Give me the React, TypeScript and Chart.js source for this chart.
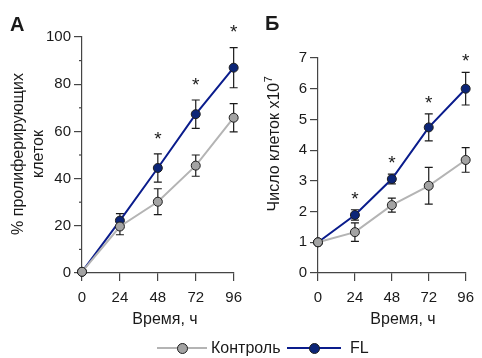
import React, { useEffect, useRef } from 'react';
import { Chart, registerables } from 'chart.js';

Chart.register(...registerables);

const FONT = '"Liberation Sans", Arial, Helvetica, sans-serif';

// ---- data ----
const hours = [0, 24, 48, 72, 96];
const seriesNames = ['Контроль', 'FL'];

const aControl = [0.5, 19.7, 30.2, 45.5, 65.8];
const aControlErr = [0, 3.5, 5.5, 4.5, 6];
const aFL = [0.5, 22.2, 44.5, 67.3, 87.0];
const aFLErr = [0, 3, 6, 6, 8.5];
const aStars = [false, false, true, true, true];
const aMinorTicks = [10, 30, 50, 70, 90];

const bControl = [1, 1.33, 2.21, 2.84, 3.68];
const bControlErr = [0, 0.3, 0.23, 0.6, 0.4];
const bFL = [1, 1.89, 3.06, 4.74, 6.0];
const bFLErr = [0, 0.17, 0.16, 0.44, 0.53];
const bStars = [false, true, true, true, true];

const aYTitle = ['% пролиферирующих', 'клеток'];
const bYTitle = 'Число клеток x10';
const bYTitleSup = '7';
const xTitle = 'Время, ч';

// ---- styles ----
const CONTROL_LINE = '#b4b4b4';
const CONTROL_FILL = '#a3a3a3';
const FL_LINE = '#0a1c8c';
const FL_FILL = '#0c2577';
const MARKER_EDGE = '#1e1e1e';
const AXIS = '#454545';
const TEXT = '#1a1a1a';

type Panel = {
  control: number[];
  controlErr: number[];
  fl: number[];
  flErr: number[];
  stars: boolean[];
  yMax: number;
  yStep: number;
  minor: number[];
  width: number;
  height: number;
  area: { left: number; top: number; right: number; bottom: number };
  letter: string;
  letterPos: [number, number];
  yTitle: string[];
  yTitleSup?: string;
  yTitlePos: [number, number];
  xTitlePos: [number, number];
  starGap: number;
};

function makeChart(canvas: HTMLCanvasElement, p: Panel) {
  const decor = {
    id: 'decor',
    beforeDatasetsDraw(chart: any) {
      const ctx = chart.ctx;
      const xs = chart.scales.x;
      const ys = chart.scales.y;
      ctx.save();
      ctx.strokeStyle = '#1a1a1a';
      ctx.lineWidth = 1.2;
      chart.data.datasets.forEach((ds: any) => {
        ds.data.forEach((pt: any, i: number) => {
          const e = ds.errors[i];
          if (!e) return;
          const x = xs.getPixelForValue(pt.x);
          const y1 = ys.getPixelForValue(pt.y + e);
          const y2 = ys.getPixelForValue(pt.y - e);
          ctx.beginPath();
          ctx.moveTo(x, y1);
          ctx.lineTo(x, y2);
          ctx.moveTo(x - 4, y1);
          ctx.lineTo(x + 4, y1);
          ctx.moveTo(x - 4, y2);
          ctx.lineTo(x + 4, y2);
          ctx.stroke();
        });
      });
      ctx.restore();
    },
    afterDraw(chart: any) {
      const ctx = chart.ctx;
      const xs = chart.scales.x;
      const ys = chart.scales.y;
      const area = chart.chartArea;
      ctx.save();
      // minor ticks
      ctx.strokeStyle = AXIS;
      ctx.lineWidth = 1.2;
      p.minor.forEach((v) => {
        const y = ys.getPixelForValue(v);
        ctx.beginPath();
        ctx.moveTo(area.left - 3, y);
        ctx.lineTo(area.left, y);
        ctx.stroke();
      });
      // significance stars
      ctx.fillStyle = TEXT;
      const sz = 19;
      ctx.font = `${sz}px ${FONT}`;
      ctx.textAlign = 'center';
      ctx.textBaseline = 'alphabetic';
      p.stars.forEach((s, i) => {
        if (!s) return;
        const x = xs.getPixelForValue(hours[i]);
        const y = ys.getPixelForValue(p.fl[i] + p.flErr[i]) - p.starGap;
        ctx.fillText('*', x, y + 0.57 * sz);
      });
      // x title
      ctx.font = `16px ${FONT}`;
      ctx.textBaseline = 'middle';
      ctx.fillText(xTitle, p.xTitlePos[0], p.xTitlePos[1]);
      // y title
      p.yTitle.forEach((line, i) => {
        ctx.save();
        ctx.translate(p.yTitlePos[0] + i * 19.2, p.yTitlePos[1]);
        ctx.rotate(-Math.PI / 2);
        ctx.font = `16px ${FONT}`;
        if (p.yTitleSup) {
          const w1 = ctx.measureText(line).width;
          ctx.font = `11px ${FONT}`;
          const w2 = ctx.measureText(p.yTitleSup).width;
          const start = -(w1 + w2) / 2;
          ctx.textAlign = 'left';
          ctx.font = `16px ${FONT}`;
          ctx.fillText(line, start, 0);
          ctx.font = `11px ${FONT}`;
          ctx.fillText(p.yTitleSup, start + w1 + 0.5, -6);
        } else {
          ctx.textAlign = 'center';
          ctx.fillText(line, 0, 0);
        }
        ctx.restore();
      });
      // panel letter
      ctx.font = `bold 20px ${FONT}`;
      ctx.textAlign = 'left';
      ctx.textBaseline = 'alphabetic';
      ctx.fillText(p.letter, p.letterPos[0], p.letterPos[1]);
      ctx.restore();
    },
  };

  const pointCommon = {
    pointBorderColor: MARKER_EDGE,
    pointBorderWidth: 1,
    pointRadius: 4.5,
    borderWidth: 2,
    clip: false as any,
    tension: 0,
  };

  return new Chart(canvas, {
    type: 'line',
    data: {
      datasets: [
        {
          label: seriesNames[0],
          data: hours.map((h, i) => ({ x: h, y: p.control[i] })),
          errors: p.controlErr,
          borderColor: CONTROL_LINE,
          backgroundColor: CONTROL_FILL,
          pointBackgroundColor: CONTROL_FILL,
          ...pointCommon,
        } as any,
        {
          label: seriesNames[1],
          data: hours.map((h, i) => ({ x: h, y: p.fl[i] })),
          errors: p.flErr,
          borderColor: FL_LINE,
          backgroundColor: FL_FILL,
          pointBackgroundColor: FL_FILL,
          ...pointCommon,
        } as any,
      ],
    },
    options: {
      animation: false,
      responsive: false,
      maintainAspectRatio: false,
      layout: {
        padding: { left: 0, top: p.area.top, right: p.width - p.area.right, bottom: 0 },
      },
      plugins: { legend: { display: false }, tooltip: { enabled: false } },
      scales: {
        x: {
          type: 'linear',
          min: 0,
          max: 96,
          afterBuildTicks: (s: any) => {
            s.ticks = hours.map((v) => ({ value: v }));
          },
          afterFit: (s: any) => {
            s.height = p.height - p.area.bottom;
          },
          grid: { drawOnChartArea: false, drawTicks: true, tickLength: 8, color: AXIS, lineWidth: 1.2 },
          border: { display: true, color: AXIS, width: 1.2 },
          ticks: { font: { family: FONT, size: 15 }, color: TEXT, padding: 8, maxRotation: 0, autoSkip: false },
        },
        y: {
          type: 'linear',
          min: 0,
          max: p.yMax,
          afterFit: (s: any) => {
            s.width = p.area.left;
          },
          grid: { drawOnChartArea: false, drawTicks: true, tickLength: 8, color: AXIS, lineWidth: 1.2 },
          border: { display: true, color: AXIS, width: 1.2 },
          ticks: { stepSize: p.yStep, font: { family: FONT, size: 15 }, color: TEXT, padding: 3 },
        },
      },
    } as any,
    plugins: [decor],
  });
}

const panelA: Panel = {
  control: aControl,
  controlErr: aControlErr,
  fl: aFL,
  flErr: aFLErr,
  stars: aStars,
  yMax: 100,
  yStep: 20,
  minor: aMinorTicks,
  width: 250,
  height: 340,
  area: { left: 82, top: 37, right: 234, bottom: 273 },
  letter: 'А',
  letterPos: [10, 31],
  yTitle: aYTitle,
  yTitlePos: [19, 154],
  xTitlePos: [165, 320],
  starGap: 20,
};

const panelB: Panel = {
  control: bControl,
  controlErr: bControlErr,
  fl: bFL,
  flErr: bFLErr,
  stars: bStars,
  yMax: 7,
  yStep: 1,
  minor: [],
  width: 232,
  height: 340,
  area: { left: 68, top: 58, right: 223, bottom: 273 },
  letter: 'Б',
  letterPos: [15, 30],
  yTitle: [bYTitle],
  yTitleSup: bYTitleSup,
  yTitlePos: [25, 144],
  xTitlePos: [153, 320],
  starGap: 16,
};

function PanelChart({ p, left }: { p: Panel; left: number }) {
  const ref = useRef<HTMLCanvasElement>(null);
  useEffect(() => {
    if (!ref.current) return;
    const c = makeChart(ref.current, p);
    return () => c.destroy();
  }, [p]);
  return (
    <canvas
      ref={ref}
      width={p.width}
      height={p.height}
      style={{ position: 'absolute', left, top: 0, width: p.width, height: p.height }}
    />
  );
}

function LegendItem({
  label, line, fill, x1, cx, x2, tx,
}: { label: string; line: string; fill: string; x1: number; cx: number; x2: number; tx: number }) {
  const cy = 348;
  const r = 5.5;
  return (
    <>
      <div style={{ position: 'absolute', left: x1, top: cy - 1, width: x2 - x1, height: 2, background: line }} />
      <div
        style={{
          position: 'absolute',
          left: cx - r,
          top: cy - r,
          width: 2 * r,
          height: 2 * r,
          boxSizing: 'border-box',
          borderRadius: '50%',
          background: fill,
          border: `1px solid ${MARKER_EDGE}`,
        }}
      />
      <div
        style={{
          position: 'absolute',
          left: tx,
          top: cy - 10,
          height: 20,
          lineHeight: '20px',
          fontFamily: FONT,
          fontSize: 16,
          color: TEXT,
          whiteSpace: 'nowrap',
        }}
      >
        {label}
      </div>
    </>
  );
}

export default function App() {
  return (
    <div style={{ position: 'fixed', left: 0, top: 0, width: 482, height: 358, background: '#fff', overflow: 'hidden' }}>
      <PanelChart p={panelA} left={0} />
      <PanelChart p={panelB} left={250} />
      <LegendItem label={seriesNames[0]} line={CONTROL_LINE} fill={CONTROL_FILL} x1={157} cx={182} x2={207} tx={211} />
      <LegendItem label={seriesNames[1]} line={FL_LINE} fill={FL_FILL} x1={287} cx={314} x2={341} tx={350} />
    </div>
  );
}
